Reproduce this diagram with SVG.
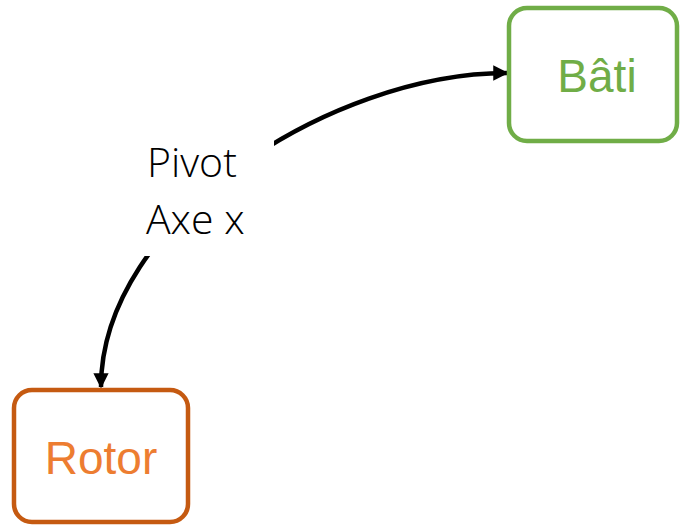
<svg xmlns="http://www.w3.org/2000/svg" width="680" height="526" viewBox="0 0 680 526">
<defs>
<style>
.node{fill:#fff;stroke-width:4.5}
.lbl{font-family:"Liberation Sans",Arial,sans-serif;font-size:46px;text-anchor:middle}
.edge{fill:none;stroke:#000;stroke-width:4.5}
.elbl{font-family:"Open Sans",sans-serif;font-weight:300;font-size:41px;fill:#000}
</style>
<marker id="ah" viewBox="0 0 10 10" refX="9" refY="5" markerWidth="3.4" markerHeight="3.4" orient="auto-start-reverse" markerUnits="strokeWidth">
<path d="M0,0 L10,5 L0,10 Z" fill="#000"/>
</marker>
</defs>
<rect width="680" height="526" fill="#fff"/>
<g id="connectors">
<path class="edge" d="M101,387 C101,220 330,73 507,73" marker-start="url(#ah)" marker-end="url(#ah)"/>
<rect x="138" y="132" width="136" height="124" fill="#fff"/>
<text class="elbl" x="147" y="177">Pivot</text>
<text class="elbl" x="146" y="234">Axe x</text>
</g>
<g id="bati">
<rect class="node" x="509" y="8" width="168" height="133" rx="18" stroke="#70AD47"/>
<text class="lbl" x="597" y="92" fill="#70AD47">Bâti</text>
</g>
<g id="rotor">
<rect class="node" x="14" y="390" width="174" height="132" rx="18" stroke="#C55A11"/>
<text class="lbl" x="101" y="474" fill="#ED7D31">Rotor</text>
</g>
</svg>
